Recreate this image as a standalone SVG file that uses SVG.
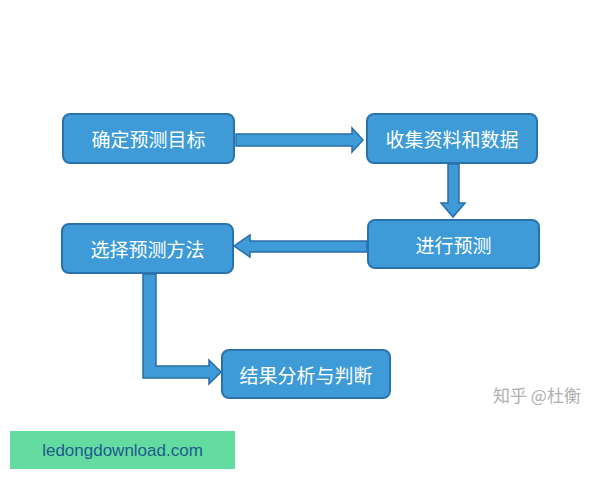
<svg xmlns="http://www.w3.org/2000/svg" width="600" height="480" viewBox="0 0 600 480">
<style>
.box{fill:#3e9bd8;stroke:#2a72ad;stroke-width:2}
.lbl{fill:#ffffff;font-family:"Noto Sans CJK SC","Noto Sans",sans-serif;font-size:19px;text-anchor:middle;dominant-baseline:central}
.arr{fill:#3e9bd8;stroke:#2a6fa8;stroke-width:1.5;stroke-linejoin:miter}
</style>
<rect width="600" height="480" fill="#ffffff"/>
<g id="connectors">
<polygon class="arr" points="236,134 352,134 352,128 363,140 352,152 352,146 236,146"/>
<polygon class="arr" points="448,164 459,164 459,203 465,203 453,217 441,203 448,203"/>
<polygon class="arr" points="367,241 250,241 250,235 234,246 250,257 250,252 367,252"/>
<polygon class="arr" points="143,274 156,274 156,366 209,366 209,360 221,372 209,384 209,378 143,378"/>
</g>
<g id="n1"><rect class="box" x="63" y="114" width="171" height="49" rx="7"/><text class="lbl" x="148.5" y="138.5">确定预测目标</text></g>
<g id="n2"><rect class="box" x="367" y="114" width="170" height="49" rx="7"/><text class="lbl" x="452" y="138.5">收集资料和数据</text></g>
<g id="n3"><rect class="box" x="368" y="220" width="171" height="48" rx="7"/><text class="lbl" x="453.5" y="244">进行预测</text></g>
<g id="n4"><rect class="box" x="62" y="224" width="171" height="49" rx="7"/><text class="lbl" x="147.5" y="248.5">选择预测方法</text></g>
<g id="n5"><rect class="box" x="222" y="350" width="168" height="48" rx="7"/><text class="lbl" x="306" y="374">结果分析与判断</text></g>
<text x="537" y="394" fill="#b0b0b0" font-family="Noto Sans CJK SC,sans-serif" font-size="17" text-anchor="middle" dominant-baseline="central">知乎 @杜衡</text>
<rect x="10" y="431" width="225" height="38" fill="#64dba1"/>
<text x="122.5" y="450" fill="#1f5c8c" font-family="Liberation Sans,Arial,sans-serif" font-size="17" text-anchor="middle" dominant-baseline="central">ledongdownload.com</text>
</svg>
